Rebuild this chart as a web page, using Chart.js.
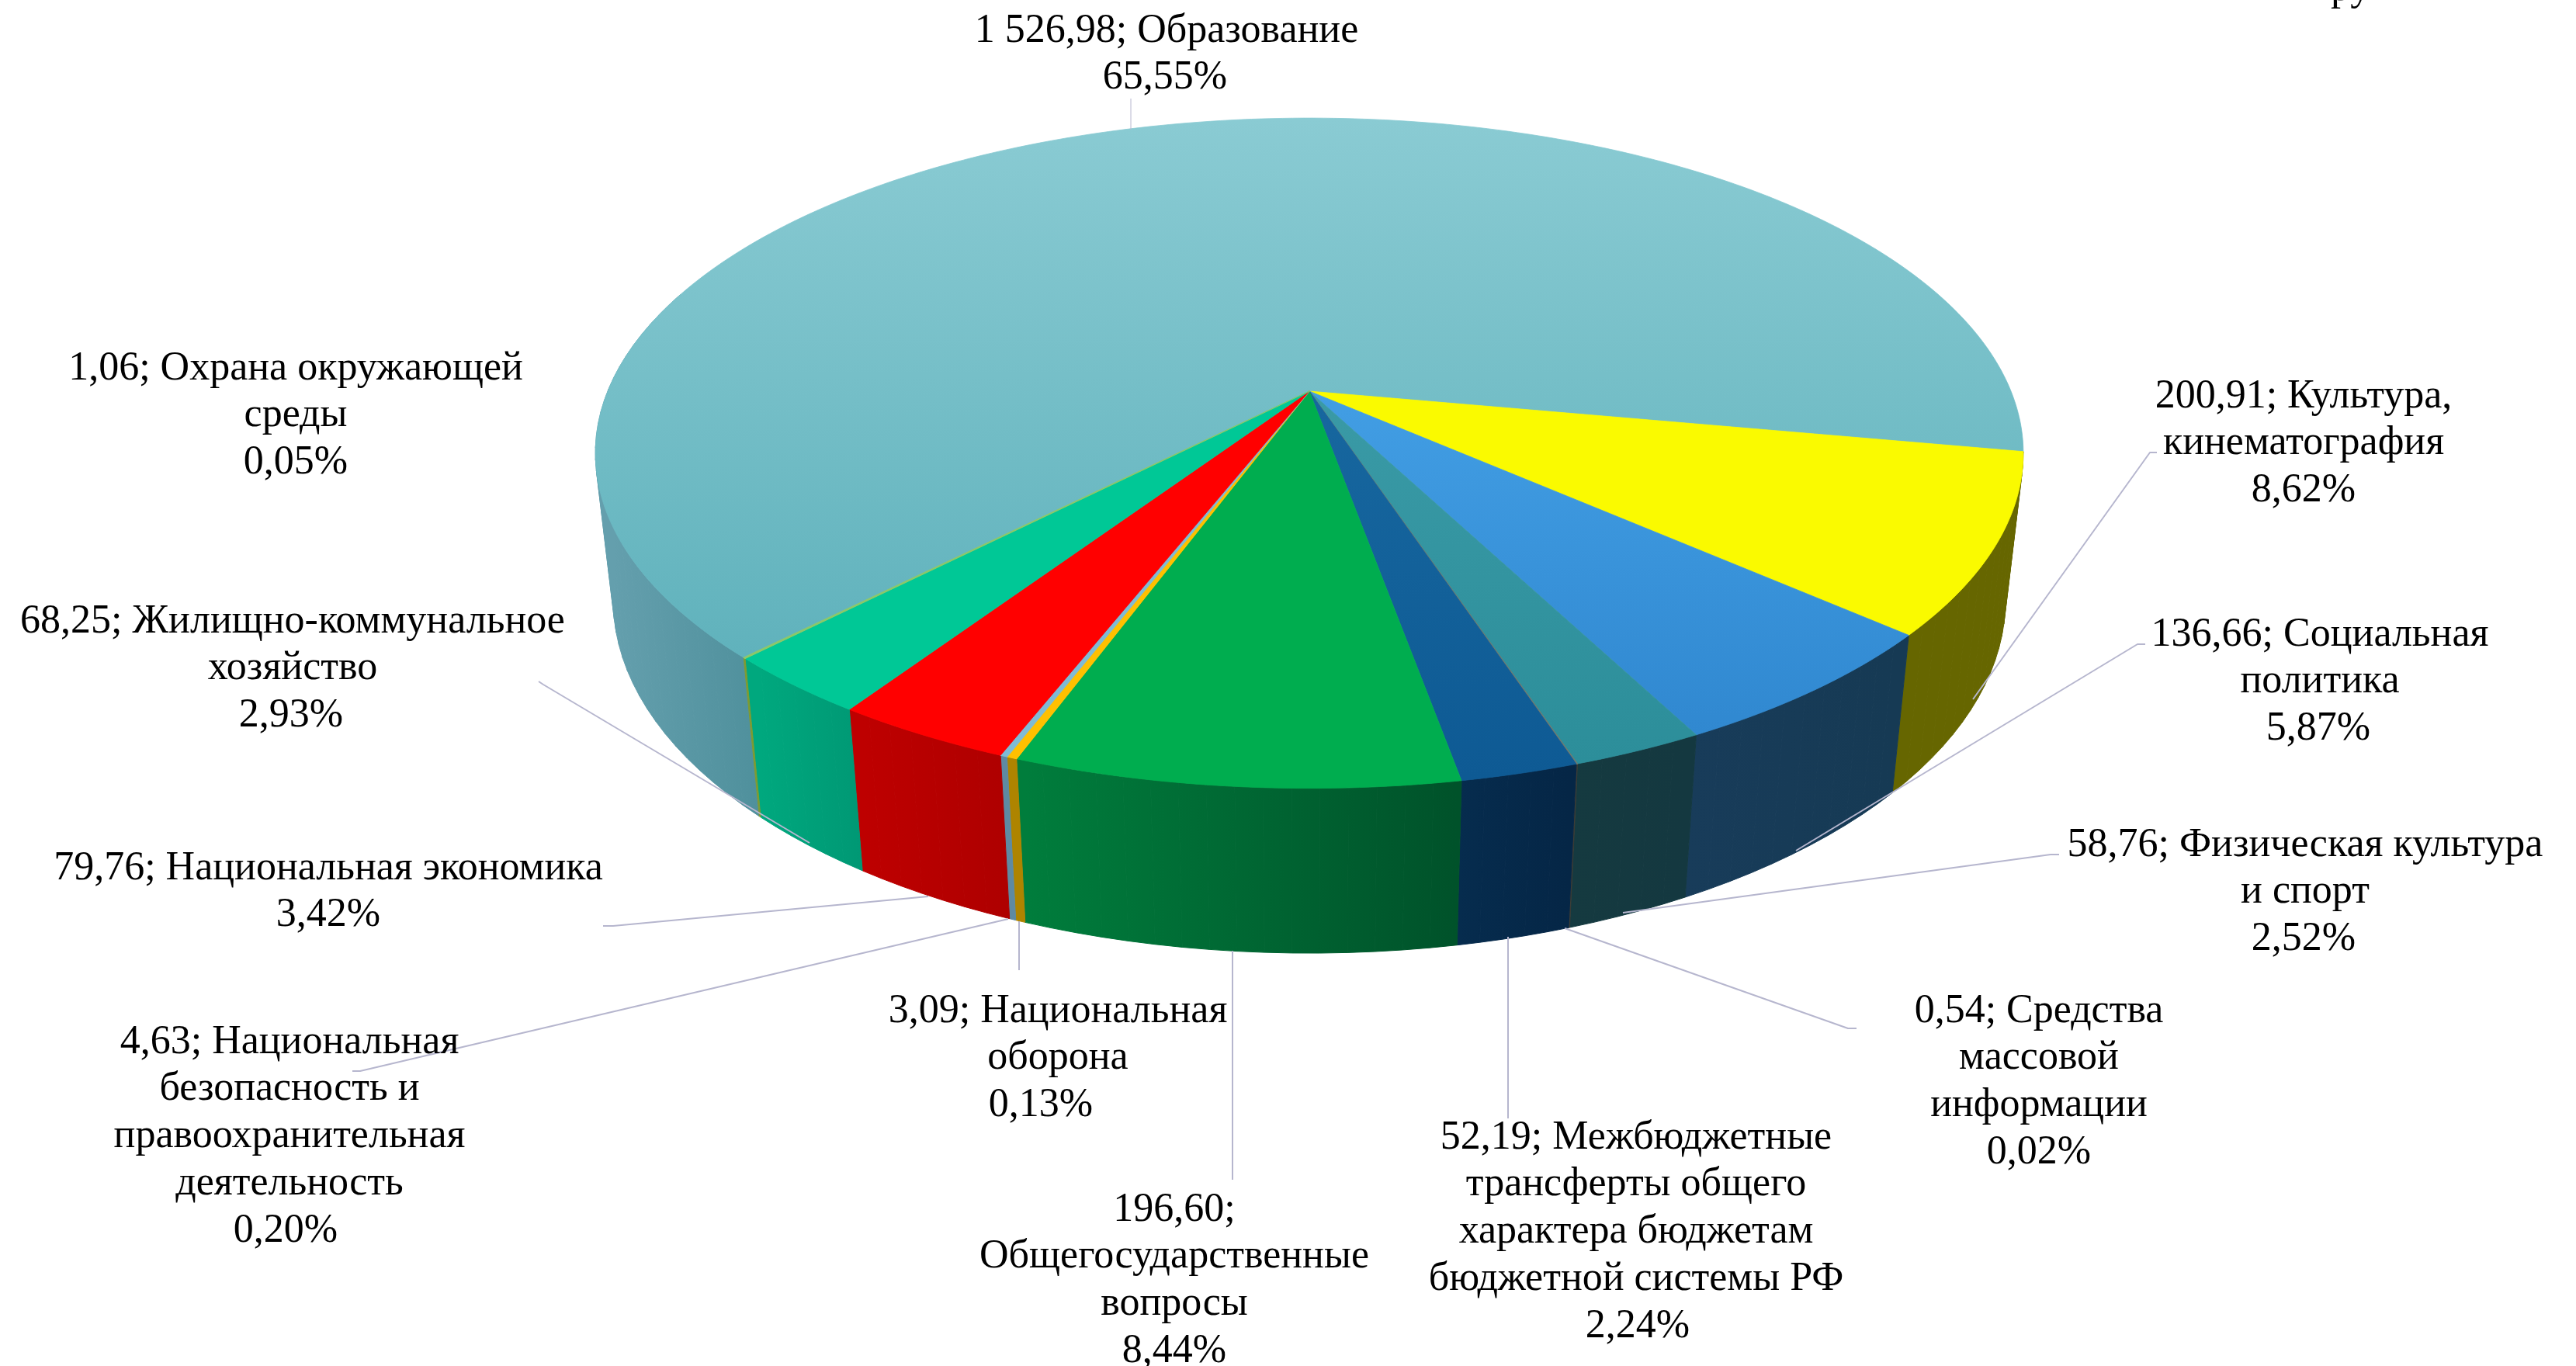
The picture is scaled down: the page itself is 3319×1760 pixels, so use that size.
<!DOCTYPE html>
<html><head><meta charset="utf-8">
<script src="https://cdn.jsdelivr.net/npm/chart.js@4"></script>
<style>html,body{margin:0;padding:0;background:#fff;overflow:hidden}canvas{display:block}</style>
</head><body><canvas id="c" width="3319" height="1760"></canvas>
<script>
const categories = ["Образование","Культура, кинематография","Социальная политика","Физическая культура и спорт","Средства массовой информации","Межбюджетные трансферты общего характера бюджетам бюджетной системы РФ","Общегосударственные вопросы","Национальная безопасность и правоохранительная деятельность","Национальная оборона","Национальная экономика","Жилищно-коммунальное хозяйство","Охрана окружающей среды"];
const values = [1526.98,200.91,136.66,58.76,0.54,52.19,196.60,4.63,3.09,79.76,68.25,1.06];
const labelLines = [
 ["1 526,98; Образование","65,55%"],
 ["200,91; Культура,","кинематография","8,62%"],
 ["136,66; Социальная","политика","5,87%"],
 ["58,76; Физическая культура","и спорт","2,52%"],
 ["0,54; Средства","массовой","информации","0,02%"],
 ["52,19; Межбюджетные","трансферты общего","характера бюджетам","бюджетной системы РФ","2,24%"],
 ["196,60;","Общегосударственные","вопросы","8,44%"],
 ["4,63; Национальная","безопасность и","правоохранительная","деятельность","0,20%"],
 ["3,09; Национальная","оборона","0,13%"],
 ["79,76; Национальная экономика","3,42%"],
 ["68,25; Жилищно-коммунальное","хозяйство","2,93%"],
 ["1,06; Охрана окружающей","среды","0,05%"]
];
const topColors = ["#74C2CC","#FAFA00","#3A94DA","#3294A0","#6F7A70","#12609C","#00AD4F","#FFC000","#7FBBD5","#FF0000","#00C896","#8CC86A"];
const topGradients = [["#8ACBD3","#60B2BC"],null,["#429EE4","#3088D0"],["#3A9AA6","#2C8E9A"],null,["#17679F","#0E5A94"],null,null,null,null,null,null];
const wallColors = [["#649FAD","#4F909C"],["#666600","#666600"],["#183C5A","#163A54"],["#153A40","#143840"],["#3A3A34","#3A3A34"],["#062C4E","#052646"],["#007D3C","#00522A"],["#AE8400","#AE8400"],["#5E8AA2","#5E8AA2"],["#BE0000","#AE0000"],["#00A87E","#009874"],["#7E9A30","#7E9A30"]];
// leader polylines, [x,y] pairs on the page
const leaders = [
 [[1457,127],[1457,167]],
 [[2779,583],[2770,583],[2542,901]],
 [[2764,830],[2754,830],[2314,1096]],
 [[2653,1101],[2642,1101],[2091,1176]],
 [[2392,1325],[2381,1325],[2016,1196]],
 [[1943,1207],[1943,1441]],
 [[1588,1225],[1588,1520]],
 [[1299,1184],[464,1380],[454,1380]],
 [[1313,1187],[1313,1250]],
 [[1196,1155],[790,1193],[777,1193]],
 [[1043,1086],[700,882],[694,878]]
];
const leaderWidth = [1,2,2,2,2,2,2,2,2,2,2];
// label centre x and first line y
const labelPos = [[1503,40],[2968,511],[2989,818],[2970,1089],[2627,1303],[2108,1466],[1513,1559],[373,1343],[1363,1303],[423,1119],[377,801],[381,475]];
// horizontal nudge of the last (percent) line of a label
const percentShift = [-2,0,-2,-2,0,2,0,-5,-22,0,-2,0];
const LINE = 60.8, FONT = '52px "Liberation Serif"';
// projection of the pie disc: apex, half sizes and perspective terms
const AX=1687, AY=504, B=904, A=417, K=0.185, M=0.0247, C=191;
function proj(phi,z){
  const u=Math.sin(phi), v=-Math.cos(phi), w=1-K*v+M*z;
  return [AX+B*u/w, AY+(A*v+C*z)/w];
}
const pie3d = {
  id:'pie3d',
  beforeDatasetsDraw(chart){
    const ctx=chart.ctx, arcs=chart.getDatasetMeta(0).data;
    const span=a=>[a.startAngle+Math.PI/2, a.endAngle+Math.PI/2];
    // side walls
    arcs.forEach((a,i)=>{
      const [s,e]=span(a);
      const n=Math.max(1,Math.ceil((e-s)/(Math.PI/90)));
      const pts=[];for(let j=0;j<=n;j++)pts.push(s+(e-s)*j/n);
      const front=p=>Math.cos(p)<0.3&&!(e-s>Math.PI&&p-s>(e-s)/2);
      let x0=Infinity,x1=-Infinity;
      pts.forEach(p=>{if(front(p)){const t=proj(p,1);x0=Math.min(x0,t[0]);x1=Math.max(x1,t[0]);}});
      if(x0===Infinity)return;
      const g=ctx.createLinearGradient(x0,0,x1,0);
      g.addColorStop(0,wallColors[i][0]);g.addColorStop(1,wallColors[i][1]);
      ctx.fillStyle=g;ctx.strokeStyle=g;ctx.lineWidth=1;ctx.lineJoin='round';
      for(let j=0;j<n;j++){
        if(!front(pts[j])&&!front(pts[j+1]))continue;
        const t0=proj(pts[j],0),t1=proj(pts[j+1],0),b1=proj(pts[j+1],1),b0=proj(pts[j],1);
        ctx.beginPath();ctx.moveTo(...t0);ctx.lineTo(...t1);ctx.lineTo(...b1);ctx.lineTo(...b0);ctx.closePath();ctx.fill();ctx.stroke();
      }
    });
    // top faces
    arcs.forEach((a,i)=>{
      const [s,e]=span(a);
      const n=Math.max(1,Math.ceil((e-s)/(Math.PI/180)));
      ctx.beginPath();ctx.moveTo(AX,AY);
      for(let j=0;j<=n;j++)ctx.lineTo(...proj(s+(e-s)*j/n,0));
      ctx.closePath();
      let f=topColors[i];
      if(topGradients[i]){
        let y0=Infinity,y1=-Infinity;
        for(let j=0;j<=n;j++){const y=proj(s+(e-s)*j/n,0)[1];y0=Math.min(y0,y);y1=Math.max(y1,y);}
        y0=Math.min(y0,AY);y1=Math.max(y1,AY);
        f=ctx.createLinearGradient(0,y0,0,y1);f.addColorStop(0,topGradients[i][0]);f.addColorStop(1,topGradients[i][1]);
      }
      ctx.fillStyle=f;ctx.strokeStyle=f;ctx.lineWidth=(e-s)<0.02?1.2:0.8;ctx.lineJoin='round';
      ctx.fill();ctx.stroke();
    });
    return false;
  },
  afterDraw(chart){
    const ctx=chart.ctx;
    ctx.save();
    leaders.forEach((l,i)=>{
      ctx.beginPath();ctx.moveTo(...l[0]);for(let k=1;k<l.length;k++)ctx.lineTo(...l[k]);
      ctx.strokeStyle='#B6B6CE';ctx.lineWidth=leaderWidth[i];ctx.stroke();
    });
    ctx.fillStyle='#000';ctx.font=FONT;ctx.textAlign='center';ctx.textBaseline='middle';
    labelLines.forEach((ls,i)=>ls.forEach((t,j)=>ctx.fillText(t,labelPos[i][0]+(j===ls.length-1?percentShift[i]:0),labelPos[i][1]+j*LINE)));
    ctx.textAlign='left';ctx.textBaseline='alphabetic';
    ctx.fillText('ру',3003,0);
    ctx.restore();
  }
};
new Chart(document.getElementById('c'),{
  type:'pie',
  data:{labels:categories,datasets:[{data:values,backgroundColor:topColors,borderWidth:0}]},
  options:{responsive:false,animation:false,rotation:224.4,layout:{padding:0},
    plugins:{legend:{display:false},tooltip:{enabled:false}}},
  plugins:[pie3d]
});
</script></body></html>
